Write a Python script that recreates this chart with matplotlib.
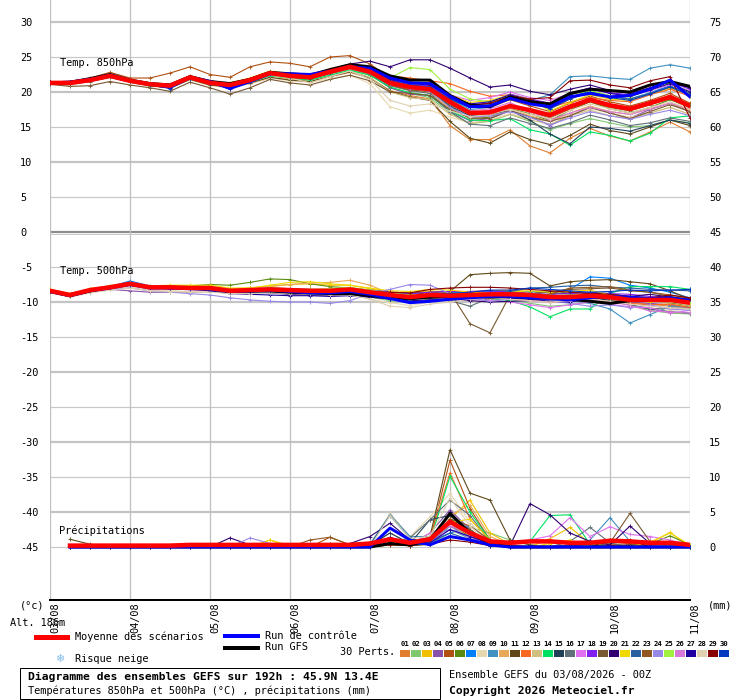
import matplotlib
matplotlib.use("Agg")
import matplotlib.pyplot as plt
from matplotlib.lines import Line2D
from matplotlib.patches import Rectangle

# time axis (hours from 03/08 00Z)
hours = list(range(0, 193, 6))
hours_pr = list(range(6, 193, 6))
day_ticks = list(range(0, 193, 24))
day_labels = ["03/08", "04/08", "05/08", "06/08", "07/08", "08/08", "09/08", "10/08", "11/08"]

pert_colors = ["#e07f30", "#80c870", "#f0c000", "#8850a8", "#b05010", "#5a8a10", "#0080ff", "#e8d8b0",
               "#4090c0", "#e8a858", "#604818", "#f86820", "#d0c080", "#00e060", "#204058", "#607078",
               "#e070f0", "#8020f0", "#785830", "#300070", "#f0d800", "#2860a0", "#905820", "#9888e8",
               "#a0f040", "#d878d8", "#2000a0", "#e0d0b0", "#880000", "#0038c0"]

# ---- temperature 850 hPa (degC) ----
t850_mean = [21.3,21.3,21.7,22.3,21.6,21.1,20.9,22.1,21.3,21.0,21.7,22.7,22.3,22.1,22.9,23.6,22.9,21.3,20.7,20.4,18.6,17.0,17.1,18.0,17.4,16.7,17.9,18.9,18.1,17.6,18.4,19.3,18.0]
t850_ctrl = [21.3,21.4,21.8,22.4,21.6,21.1,20.7,22.1,21.5,20.5,21.5,22.6,22.6,22.5,23.0,23.6,23.4,22.0,21.3,21.2,19.4,17.9,18.0,19.1,18.3,17.9,19.3,19.8,19.3,19.5,20.4,21.7,19.3]
t850_gfs = [21.3,21.4,21.9,22.5,21.7,21.2,21.0,22.2,21.5,21.2,21.8,22.8,22.6,22.4,23.2,23.9,23.6,22.3,21.7,21.7,19.5,18.1,17.9,19.3,18.6,18.3,19.8,20.4,20.2,20.0,21.0,21.5,20.8]
t850_p01 = [21.2,21.0,21.6,22.4,21.5,21.0,20.6,21.8,21.0,20.7,21.2,22.0,21.8,21.5,22.2,22.8,22.0,20.2,19.5,19.0,15.2,13.2,13.2,14.6,12.3,11.3,13.4,14.8,13.7,13.0,14.3,15.7,14.3]
t850_p02 = [21.4,21.4,21.8,22.2,21.7,21.2,21.0,22.0,21.4,21.1,21.8,22.6,22.2,22.0,22.6,23.2,22.4,20.6,19.8,19.2,17.0,15.5,15.8,16.8,15.8,14.6,15.5,16.2,15.6,15.0,15.2,16.0,15.6]
t850_p03 = [21.3,21.4,21.9,22.5,21.7,21.2,21.0,22.3,21.5,21.3,22.0,23.0,22.6,22.4,23.3,24.0,23.3,21.8,21.2,21.0,19.3,18.0,18.3,19.4,18.8,17.6,19.0,20.0,19.4,19.0,19.8,20.6,19.6]
t850_p04 = [21.2,21.2,21.6,22.1,21.5,20.9,20.7,21.9,21.1,20.8,21.4,22.4,22.0,21.8,22.6,23.3,22.6,20.6,19.7,19.5,17.2,15.9,16.2,17.3,16.5,15.2,16.6,17.8,17.0,16.3,17.5,18.4,17.2]
t850_p05 = [21.4,21.5,22.0,22.8,22.0,22.0,22.7,23.6,22.5,22.1,23.6,24.3,24.1,23.6,25.0,25.2,24.0,22.0,21.2,20.6,19.4,18.3,17.8,18.9,18.0,17.2,18.4,19.4,18.6,18.0,18.8,19.8,18.4]
t850_p06 = [21.3,21.2,21.6,22.2,21.6,21.0,20.8,22.0,21.2,20.9,21.6,22.6,22.1,21.9,22.7,23.5,22.8,21.0,20.3,20.0,17.9,16.2,16.4,17.6,16.9,15.9,17.4,18.6,17.6,17.0,17.8,18.9,17.8]
t850_p07 = [21.3,21.4,21.8,22.4,21.7,21.2,21.0,22.3,21.4,21.2,21.9,22.9,22.5,22.3,23.1,23.8,23.1,21.6,21.0,20.8,19.0,17.8,17.9,19.2,18.4,17.7,19.2,20.2,19.4,19.0,19.9,20.9,19.5]
t850_p08 = [21.2,21.0,21.5,22.3,21.4,20.8,20.6,21.7,20.9,20.6,21.2,22.0,21.6,21.4,21.9,22.4,21.2,17.9,17.0,17.4,16.4,15.6,16.0,16.9,16.2,15.8,16.8,17.6,17.0,16.4,17.0,17.8,16.8]
t850_p09 = [21.3,21.3,21.7,22.2,21.6,21.1,20.9,22.1,21.3,21.0,21.6,22.5,22.2,22.0,22.8,23.5,22.8,21.4,20.8,20.6,19.0,17.5,17.8,19.0,18.8,19.6,22.2,22.3,22.0,21.8,23.4,23.9,23.4]
t850_p10 = [21.4,21.3,21.7,22.3,21.6,21.1,20.9,22.1,21.3,21.0,21.6,22.6,22.2,22.0,22.7,23.3,22.6,20.9,20.2,19.9,17.6,16.3,16.6,17.6,16.6,15.8,17.0,18.0,17.2,16.8,17.6,18.4,17.4]
t850_p11 = [21.2,21.1,21.5,22.1,21.4,20.9,20.6,21.8,21.0,20.7,21.3,22.1,21.7,21.5,22.2,22.9,22.0,20.1,19.3,18.8,15.8,13.4,12.7,14.3,13.2,12.5,13.8,15.4,14.5,14.0,15.0,16.0,15.2]
t850_p12 = [21.3,21.4,21.9,22.5,21.8,21.3,21.1,22.3,21.6,21.2,21.9,22.8,22.4,22.3,23.1,23.9,23.3,22.3,22.0,21.6,21.2,20.1,19.4,19.6,18.8,17.8,18.6,19.2,18.8,18.6,19.6,20.4,19.4]
t850_p13 = [21.3,21.3,21.6,22.2,21.5,21.0,20.8,22.0,21.2,20.9,21.5,22.3,21.9,21.7,22.4,23.0,22.1,20.0,19.2,18.9,16.8,15.5,15.9,16.8,16.0,15.4,16.6,17.4,16.6,16.2,17.0,17.8,16.8]
t850_p14 = [21.3,21.2,21.6,22.2,21.5,20.9,20.7,21.9,21.1,20.8,21.4,22.3,22.0,21.7,22.4,23.1,22.4,20.7,19.9,19.5,17.3,16.0,15.9,16.2,14.6,14.0,12.4,14.3,13.8,13.0,14.1,16.3,16.6]
t850_p15 = [21.3,21.3,21.7,22.3,21.6,21.1,20.9,22.1,21.3,21.0,21.7,22.7,22.3,22.1,22.9,23.6,22.9,21.2,20.5,20.2,18.0,16.6,16.8,17.4,16.0,14.0,12.6,15.0,14.8,14.4,15.2,16.0,15.5]
t850_p16 = [21.3,21.3,21.7,22.3,21.6,21.1,20.9,22.1,21.3,21.0,21.7,22.6,22.2,22.0,22.7,23.4,22.6,20.9,20.2,19.8,17.2,15.4,15.2,16.3,15.5,14.8,15.6,16.7,16.0,15.2,15.6,16.3,15.8]
t850_p17 = [21.3,21.4,21.8,22.4,21.7,21.2,21.0,22.2,21.4,21.1,21.8,22.8,22.4,22.2,23.0,23.7,23.0,21.8,21.4,21.0,19.6,18.8,19.2,20.0,19.2,18.8,19.8,20.4,19.8,19.4,20.2,21.0,20.2]
t850_p18 = [21.4,21.4,21.8,22.4,21.7,21.2,21.0,22.2,21.5,21.2,21.9,22.9,22.5,22.3,23.1,23.9,23.2,21.7,21.0,20.9,19.2,18.2,18.4,19.7,19.0,18.4,19.8,20.6,19.9,19.6,20.6,21.4,20.4]
t850_p19 = [21.1,20.8,20.9,21.5,21.0,20.6,20.1,21.4,20.6,19.7,20.6,21.8,21.3,21.0,21.8,22.4,21.6,20.0,19.8,19.5,17.5,16.3,16.2,17.4,16.4,15.8,16.6,17.8,17.0,16.2,17.2,18.2,17.2]
t850_p20 = [21.4,21.4,21.8,22.5,21.7,21.2,21.0,22.2,21.4,21.1,21.8,22.8,22.5,22.3,23.2,24.0,24.4,23.6,24.6,24.6,23.4,22.0,20.7,21.0,20.1,19.6,20.4,21.0,20.2,19.8,20.6,21.4,20.6]
t850_p21 = [21.3,21.4,21.8,22.4,21.7,21.2,21.0,22.2,21.4,21.2,21.9,22.9,22.5,22.3,23.1,23.8,23.2,22.0,21.4,21.2,19.6,18.5,18.8,19.6,19.0,17.3,18.5,19.6,19.0,18.8,19.8,20.6,19.8]
t850_p22 = [21.3,21.3,21.7,22.3,21.6,21.0,20.8,22.0,21.2,20.9,21.6,22.6,22.2,22.0,22.8,23.5,22.8,21.4,20.9,20.6,19.0,17.8,18.2,19.2,18.6,17.9,19.2,20.1,19.4,19.0,19.8,20.8,19.9]
t850_p23 = [21.3,21.3,21.7,22.2,21.6,21.1,20.8,22.0,21.2,20.9,21.6,22.5,22.1,21.9,22.7,23.4,22.6,21.0,20.3,20.1,18.2,16.8,16.9,17.9,17.2,16.3,17.5,18.6,17.8,17.3,18.2,19.0,18.0]
t850_p24 = [21.2,21.3,21.7,22.3,21.6,21.1,20.9,22.1,21.3,21.0,21.6,22.6,22.2,22.0,22.8,23.4,22.7,21.1,20.5,20.1,17.8,16.4,16.6,17.2,16.4,15.3,16.3,17.2,16.6,16.1,16.8,17.4,16.6]
t850_p25 = [21.3,21.4,21.8,22.4,21.7,21.2,21.0,22.2,21.5,21.2,21.9,22.9,22.5,22.3,23.2,23.9,23.3,22.0,23.5,23.2,20.4,19.0,18.6,19.4,18.8,18.2,19.6,20.2,19.5,19.3,20.3,21.3,20.0]
t850_p26 = [21.3,21.3,21.8,22.4,21.7,21.2,21.0,22.2,21.4,21.1,21.8,22.8,22.4,22.2,23.0,23.7,23.1,21.6,20.8,20.6,18.6,17.3,17.6,18.5,17.2,16.0,17.0,17.8,17.2,16.8,17.6,18.4,17.6]
t850_p27 = [21.4,21.4,21.8,22.4,21.6,21.1,20.6,22.2,21.5,20.4,21.7,22.8,22.4,22.2,23.0,23.8,23.2,21.8,21.3,21.1,19.3,18.3,18.6,19.6,18.9,18.1,19.6,20.5,19.8,19.4,20.3,21.2,20.0]
t850_p28 = [21.3,21.2,21.6,22.2,21.5,21.0,20.8,21.9,21.2,20.9,21.5,22.4,22.0,21.3,22.2,23.0,21.8,18.8,18.0,18.3,17.3,16.5,16.8,17.5,16.8,16.2,17.4,18.3,17.6,17.0,17.8,18.6,17.6]
t850_p29 = [21.3,21.3,21.7,22.3,21.6,21.1,20.9,22.1,21.3,21.0,21.7,22.7,22.3,22.1,22.9,23.6,23.0,21.8,21.3,21.0,19.3,18.1,18.4,19.4,19.0,19.2,21.6,21.7,21.0,20.6,21.6,22.2,16.3]
t850_p30 = [21.3,21.3,21.7,22.3,21.6,21.0,20.5,21.9,21.2,20.6,21.5,22.6,22.2,22.0,22.8,23.6,23.0,21.6,21.0,20.7,19.0,17.8,18.0,19.3,18.6,17.6,19.0,20.0,19.2,18.8,19.7,20.7,19.6]

# ---- temperature 500 hPa (degC) ----
t500_mean = [-8.4,-9.0,-8.3,-7.9,-7.4,-7.9,-7.9,-8.0,-8.0,-8.4,-8.3,-8.2,-8.3,-8.4,-8.4,-8.2,-8.6,-9.0,-9.3,-9.0,-9.1,-9.0,-8.9,-8.9,-9.0,-9.3,-9.3,-9.1,-9.3,-9.7,-9.7,-9.7,-10.1]
t500_ctrl = [-8.5,-9.1,-8.4,-8.0,-7.5,-8.0,-8.0,-8.1,-8.1,-8.5,-8.4,-8.3,-8.5,-8.7,-8.7,-8.5,-8.9,-9.5,-10.1,-9.9,-9.6,-9.4,-9.2,-9.2,-9.4,-9.5,-9.7,-9.4,-9.2,-9.3,-9.5,-9.4,-9.8]
t500_gfs = [-8.5,-9.1,-8.4,-7.9,-7.4,-7.9,-7.9,-8.0,-8.1,-8.5,-8.4,-8.4,-8.6,-8.7,-8.8,-8.8,-9.1,-9.3,-9.5,-9.3,-9.2,-9.2,-9.3,-9.2,-9.4,-9.4,-9.6,-9.9,-10.2,-9.8,-9.6,-9.7,-10.0]
t500_p01 = [-8.3,-8.9,-8.2,-7.8,-7.5,-8.0,-8.0,-8.1,-8.1,-8.5,-8.5,-8.4,-8.6,-8.8,-8.7,-8.4,-8.8,-9.4,-9.6,-9.2,-9.0,-9.4,-9.6,-9.5,-9.8,-10.0,-9.8,-9.4,-9.7,-10.1,-10.3,-10.6,-10.8]
t500_p02 = [-8.5,-9.1,-8.4,-7.9,-7.6,-8.0,-8.1,-8.0,-8.2,-8.4,-8.2,-8.0,-8.1,-8.2,-8.5,-8.6,-9.3,-9.8,-10.0,-9.6,-9.4,-9.3,-9.2,-9.6,-10.2,-10.6,-10.4,-10.0,-9.8,-10.4,-11.2,-11.6,-11.7]
t500_p03 = [-8.3,-8.9,-8.2,-7.7,-7.2,-7.8,-7.7,-7.8,-7.9,-8.2,-8.0,-7.8,-7.5,-7.4,-7.6,-7.6,-8.1,-8.6,-8.7,-8.4,-8.6,-8.5,-8.4,-8.3,-8.5,-8.7,-8.8,-8.6,-9.0,-9.7,-9.4,-9.2,-9.6]
t500_p04 = [-8.4,-9.0,-8.4,-8.2,-8.4,-8.6,-8.6,-8.6,-8.5,-8.7,-8.6,-8.5,-8.6,-8.6,-8.8,-8.8,-9.0,-9.3,-9.4,-9.5,-9.7,-9.6,-9.4,-9.5,-9.4,-9.7,-9.9,-9.6,-9.6,-10.0,-10.2,-10.4,-10.8]
t500_p05 = [-8.4,-9.0,-8.2,-7.7,-7.3,-7.8,-7.8,-8.0,-8.0,-8.3,-8.4,-8.6,-8.7,-8.8,-9.0,-9.0,-9.1,-9.2,-8.7,-8.6,-8.8,-8.6,-8.9,-9.0,-9.1,-9.2,-9.4,-9.3,-9.5,-9.6,-9.8,-9.9,-10.1]
t500_p06 = [-8.4,-9.0,-8.2,-7.8,-7.3,-7.8,-7.7,-7.7,-7.5,-7.6,-7.2,-6.7,-6.8,-7.4,-7.8,-8.0,-8.3,-8.6,-8.9,-9.1,-8.8,-8.7,-8.6,-8.5,-8.8,-9.0,-9.2,-9.1,-9.4,-9.6,-9.9,-10.1,-10.6]
t500_p07 = [-8.3,-8.9,-8.2,-7.8,-7.0,-7.7,-7.8,-8.0,-8.0,-8.2,-8.2,-8.0,-8.2,-8.3,-8.4,-8.2,-8.4,-8.6,-8.8,-8.9,-8.7,-8.6,-8.5,-8.6,-8.5,-8.6,-8.2,-6.4,-6.6,-7.6,-8.0,-8.6,-9.4]
t500_p08 = [-8.6,-9.2,-8.6,-8.1,-7.8,-8.3,-8.4,-8.5,-8.5,-8.6,-8.6,-8.6,-8.6,-8.6,-8.6,-8.6,-9.6,-10.1,-10.5,-10.0,-9.6,-9.3,-9.0,-8.8,-9.6,-10.1,-9.7,-9.3,-10.0,-10.4,-10.8,-11.2,-11.0]
t500_p09 = [-8.4,-9.0,-8.3,-7.9,-7.5,-7.9,-8.0,-8.1,-8.1,-8.5,-8.4,-8.3,-8.4,-8.6,-8.6,-8.4,-8.8,-9.0,-9.3,-9.2,-9.0,-8.9,-9.0,-9.1,-9.4,-9.7,-9.8,-10.2,-11.0,-13.0,-11.8,-10.6,-10.6]
t500_p10 = [-8.2,-8.8,-8.1,-7.7,-7.3,-7.8,-7.7,-7.9,-7.8,-8.1,-8.0,-7.7,-7.5,-7.3,-7.2,-6.9,-7.6,-8.8,-9.5,-9.2,-9.0,-8.8,-8.6,-8.8,-9.1,-9.4,-9.6,-9.8,-10.0,-10.2,-10.4,-10.3,-10.6]
t500_p11 = [-8.4,-9.0,-8.3,-7.9,-7.5,-7.9,-7.9,-8.0,-8.0,-8.4,-8.3,-8.2,-8.3,-8.4,-8.5,-8.3,-8.6,-8.8,-9.0,-8.6,-8.5,-6.1,-5.9,-5.8,-5.9,-7.7,-7.1,-6.9,-6.8,-7.1,-7.4,-8.4,-9.6]
t500_p12 = [-8.3,-8.9,-8.2,-7.8,-7.4,-7.8,-7.9,-7.9,-7.9,-8.3,-8.2,-8.1,-8.2,-8.3,-8.3,-8.1,-8.5,-8.9,-9.2,-9.0,-9.2,-9.3,-9.2,-9.3,-9.6,-10.0,-9.8,-9.7,-9.9,-10.2,-10.4,-10.3,-10.8]
t500_p13 = [-8.6,-9.2,-8.5,-8.0,-7.6,-8.1,-8.1,-8.1,-8.1,-8.5,-8.4,-8.3,-8.3,-8.4,-8.5,-8.4,-8.8,-9.2,-9.5,-9.4,-9.3,-9.2,-9.1,-9.0,-9.2,-9.5,-9.4,-9.2,-9.3,-9.8,-10.0,-10.0,-10.4]
t500_p14 = [-8.4,-9.0,-8.3,-7.9,-7.5,-8.0,-7.9,-8.0,-8.0,-8.4,-8.3,-8.2,-8.3,-8.4,-8.4,-8.2,-8.7,-9.2,-9.4,-9.3,-9.4,-9.3,-9.5,-9.8,-10.7,-12.1,-11.0,-11.0,-8.8,-7.8,-7.8,-7.8,-8.2]
t500_p15 = [-8.5,-9.1,-8.4,-8.0,-7.6,-8.0,-8.1,-8.1,-8.1,-8.5,-8.4,-8.4,-8.5,-8.6,-8.6,-8.5,-8.9,-9.3,-9.6,-9.3,-9.2,-9.1,-9.1,-9.0,-8.8,-8.6,-8.9,-9.3,-9.8,-10.4,-11.0,-11.4,-11.6]
t500_p16 = [-8.4,-9.0,-8.3,-7.8,-7.3,-7.8,-7.8,-7.9,-7.9,-8.3,-8.3,-8.3,-8.3,-8.4,-8.4,-8.2,-8.6,-9.0,-9.3,-9.3,-9.8,-10.6,-9.4,-9.2,-9.1,-8.9,-8.5,-8.8,-9.2,-10.4,-11.0,-10.8,-10.9]
t500_p17 = [-8.3,-8.9,-8.2,-7.8,-7.3,-7.8,-7.8,-7.9,-7.9,-8.3,-8.2,-8.1,-8.2,-8.3,-8.3,-8.2,-8.6,-9.0,-9.4,-9.3,-9.5,-9.6,-9.8,-10.0,-10.4,-10.8,-10.4,-10.0,-10.3,-10.7,-10.8,-11.6,-11.2]
t500_p18 = [-8.4,-9.0,-8.3,-7.9,-7.4,-7.8,-7.8,-7.9,-7.9,-8.3,-8.1,-8.0,-8.1,-8.2,-8.2,-8.0,-8.3,-8.6,-8.8,-8.6,-8.5,-8.5,-8.4,-8.6,-8.8,-8.9,-8.8,-8.6,-8.8,-8.9,-9.2,-9.5,-9.9]
t500_p19 = [-8.5,-9.1,-8.4,-8.0,-7.6,-8.0,-8.0,-8.1,-8.1,-8.5,-8.5,-8.5,-8.6,-8.7,-8.7,-8.5,-8.8,-9.0,-9.2,-9.0,-8.6,-13.1,-14.4,-9.0,-8.9,-8.5,-8.2,-8.1,-8.0,-8.4,-8.6,-9.2,-9.8]
t500_p20 = [-8.4,-9.0,-8.3,-7.9,-7.5,-7.9,-7.9,-8.0,-8.1,-8.5,-8.6,-8.7,-8.9,-9.0,-9.1,-8.9,-9.3,-9.6,-9.8,-9.7,-9.6,-9.8,-10.0,-9.9,-9.8,-9.5,-9.3,-8.7,-8.9,-9.2,-8.9,-9.3,-10.0]
t500_p21 = [-8.2,-8.8,-8.1,-7.7,-7.3,-7.7,-7.6,-7.6,-7.6,-8.0,-8.0,-7.6,-7.2,-7.1,-7.4,-7.6,-8.0,-8.4,-8.5,-8.2,-8.3,-8.6,-8.8,-8.6,-8.4,-8.6,-8.5,-8.3,-9.0,-9.6,-10.0,-9.6,-10.2]
t500_p22 = [-8.4,-9.0,-8.3,-7.9,-7.5,-7.9,-8.0,-8.1,-8.2,-8.6,-8.7,-8.6,-8.7,-8.8,-8.7,-8.6,-9.1,-9.5,-9.7,-9.4,-9.3,-9.1,-9.0,-8.5,-8.0,-7.9,-7.7,-7.6,-7.9,-8.0,-8.2,-8.3,-8.4]
t500_p23 = [-8.5,-9.0,-8.4,-8.0,-7.5,-7.9,-7.9,-8.0,-8.0,-8.4,-8.2,-8.1,-8.3,-8.3,-8.4,-8.3,-8.6,-9.0,-9.3,-9.1,-9.2,-9.2,-9.0,-9.1,-9.2,-8.9,-8.0,-7.9,-7.8,-8.3,-8.6,-9.0,-9.5]
t500_p24 = [-8.6,-9.2,-8.6,-8.2,-8.0,-8.4,-8.6,-8.8,-9.0,-9.4,-9.7,-9.9,-10.0,-10.0,-10.2,-9.8,-8.8,-8.2,-7.5,-7.6,-8.8,-9.4,-9.9,-9.6,-9.4,-9.8,-10.2,-10.6,-10.4,-10.8,-10.4,-11.0,-11.2]
t500_p25 = [-8.3,-8.9,-8.2,-7.8,-7.4,-7.8,-7.8,-7.9,-7.9,-8.3,-8.2,-8.0,-8.1,-8.2,-8.1,-7.9,-8.3,-8.7,-9.0,-8.9,-8.9,-8.9,-8.8,-8.8,-8.9,-9.1,-9.0,-8.9,-9.0,-9.3,-9.5,-9.6,-10.0]
t500_p26 = [-8.4,-9.0,-8.3,-7.9,-7.5,-7.9,-7.9,-8.0,-8.0,-8.4,-8.4,-8.3,-8.5,-8.5,-8.5,-8.3,-8.7,-9.1,-9.4,-9.3,-9.4,-9.5,-9.5,-9.6,-9.8,-10.0,-9.9,-9.7,-9.9,-10.5,-11.3,-11.4,-11.6]
t500_p27 = [-8.5,-9.1,-8.4,-8.0,-7.6,-8.0,-8.1,-8.2,-8.4,-8.8,-8.9,-9.0,-9.1,-9.1,-9.2,-9.1,-9.3,-9.5,-9.6,-9.3,-9.2,-9.2,-9.3,-9.5,-9.6,-9.9,-10.0,-9.5,-9.3,-9.5,-9.6,-9.3,-9.6]
t500_p28 = [-8.7,-9.3,-8.7,-8.3,-8.0,-8.4,-8.5,-8.6,-8.6,-8.8,-8.8,-8.7,-8.8,-8.9,-9.0,-9.0,-9.6,-10.6,-10.8,-10.3,-10.0,-9.6,-9.4,-9.6,-9.8,-10.0,-9.8,-9.6,-9.9,-10.3,-10.6,-10.8,-11.0]
t500_p29 = [-8.4,-9.0,-8.3,-7.9,-7.4,-7.9,-7.9,-8.0,-8.0,-8.3,-8.3,-8.2,-8.3,-8.4,-8.4,-8.3,-8.5,-8.6,-8.7,-8.2,-8.0,-7.9,-7.9,-8.0,-8.2,-8.4,-8.6,-8.8,-8.9,-9.2,-9.4,-9.0,-9.4]
t500_p30 = [-8.4,-9.0,-8.3,-7.9,-7.5,-7.9,-8.0,-8.1,-8.1,-8.5,-8.5,-8.4,-8.5,-8.6,-8.6,-8.4,-8.8,-9.2,-9.4,-9.0,-8.8,-8.6,-8.3,-8.3,-8.0,-8.2,-8.4,-8.6,-8.5,-8.3,-8.4,-8.3,-8.2]

# ---- precipitation (mm / 6h), from +6h ----
pr_mean = [0.2,0.2,0.2,0.2,0.2,0.2,0.3,0.3,0.3,0.3,0.3,0.3,0.3,0.3,0.3,0.5,1.1,0.6,1.1,3.6,2.0,0.8,0.6,0.8,0.8,0.6,0.6,0.9,0.8,0.6,0.6,0.3]
pr_ctrl = [0,0,0,0,0,0,0,0,0,0,0,0,0,0,0,0,2.7,1.0,0.3,1.5,1.0,0.3,0,0,0,0,0,0,0,0,0,0]
pr_gfs = [0,0,0,0,0,0,0,0,0,0,0,0,0,0,0,0,0.5,0.3,1.0,4.8,2.0,0.5,0,0,0,0,0,0,0,0,0,0]
pr_p01 = [0,0,0,0,0,0,0,0,0,0,0,0,0,0,0,0.2,0.5,0.3,0.8,3.0,1.5,0.4,0.2,0,0,0.2,0,0.3,0,0,0.2,0]
pr_p02 = [0,0,0,0,0,0,0,0,0,0,0,0,0,0,0,0,1.0,0.4,0.5,2.0,2.8,2.0,1.0,0.3,0,0,0.2,0,0,0.3,0,0]
pr_p03 = [0,0,0,0,0,0,0,0,0,0,1.0,0,0,0,0,0,0.4,0.2,0.6,4.0,6.7,2.0,0.4,0,1.2,2.8,0.5,0,0,0.5,2.1,0]
pr_p04 = [0,0,0,0,0,0,0,0,0,0,0,0,0,0,0,0,0.8,0.3,2.0,5.3,2.5,0.5,0,0,0,0.3,0,0,0.4,0,0,0]
pr_p05 = [0,0,0,0,0,0,0,0,0,0,0,0,0,1.4,0.3,0,0.8,0.4,1.0,12.4,5.5,1.0,0.2,0,0,0,0,0.3,0.5,0,0,0]
pr_p06 = [0,0,0,0,0,0,0,0,0,0,0,0,0,0,0,0,0.3,0.2,0.6,3.0,1.5,0.3,0,0,0,0,0,0,0.2,0.4,1.6,0.3]
pr_p07 = [0,0,0,0,0,0,0,0,0,0,0,0,0,0,0,0,1.2,0.5,0.8,2.0,3.0,1.0,0.2,0,0,0,0,0,0,0,0,0]
pr_p08 = [0,0,0,0,0,0,0,0,0,0,0,0,0,0,0,0.3,4.8,1.5,4.3,7.7,3.5,0.6,0,0,0,0,0,0,0,0,0.3,0]
pr_p09 = [0,0,0,0,0,0,0,0,0,0,0,0,0,0,0,0.4,4.6,1.5,1.5,2.5,1.2,0.4,0,0,0,0.3,1.0,4.2,0.8,0,0,0]
pr_p10 = [0,0,0,0,0,0,0,0,0,0,0,0,0,0,0,0.5,0.6,0.3,1.0,4.5,6.0,1.5,0.3,0,0,0,0,0,0,0,0,0]
pr_p11 = [1.1,0.4,0,0,0,0,0,0,0,0,0,0,0,0,0,0.6,1.0,0.5,1.5,13.9,7.7,6.7,1.0,0.3,0,0,0,0,0.3,0,0,0]
pr_p12 = [0,0,0,0,0,0,0,0,0,0,0,0,0,0,0,0,0.6,0.3,1.2,10.6,4.0,1.0,0.2,0,0,0,0,0,0,0,0,0]
pr_p13 = [0,0,0,0,0,0,0,0,0,0,0,0,0,0,0,0,2.0,0.5,0.8,3.5,1.0,0.2,0,0,0,0,0,0,0,0.3,0,0]
pr_p14 = [0,0,0,0,0,0,0,0,0,0,0,0,0,0,0,0,0.4,0.2,0.8,10.1,5.0,1.0,0.6,0.8,4.5,4.6,0.4,0,0,0,0,0]
pr_p15 = [0,0,0,0,0,0,0,0,0,0,0,0,0,0,0,0.3,2.0,0.5,3.9,4.5,2.0,0.3,0,0,0,0,0,0,0,0,0,0]
pr_p16 = [0,0,0,0,0,0,0,0,0,0,0,0,0,0,0,0,0.6,1.3,3.9,6.7,4.5,0.8,0,0,0,0.8,2.8,0.6,0,0,0,0]
pr_p17 = [0,0,0,0,0,0,0,0,0,0,0,0,0,0,0,0,0.4,0.2,0.6,2.5,1.5,0.4,0.2,1.0,1.6,4.2,1.5,2.9,1.8,1.5,1.0,0.2]
pr_p18 = [0,0,0,0,0,0,0,0,0,0,0,0,0,0,0,0,1.0,0.3,0.6,3.8,1.8,0.3,0,0,0,0,0,0,0,0,0,0]
pr_p19 = [0,0,0,0,0,0,0,0.4,0,0,0,0,0,0,0,0,0.5,0.2,0.8,4.0,2.5,0.5,0,0,0,0,0,0.6,4.8,0.8,0.5,0]
pr_p20 = [0,0,0,0,0,0,0,0,1.3,0.3,0,0,0,0,0.5,1.5,3.4,1.0,0.6,5.0,2.0,0.4,0.2,6.2,4.6,2.0,0.8,0.3,3.0,0.5,0,0]
pr_p21 = [0,0,0,0,0,0,0,0,0,0,1.0,0.2,0,0,0,0,0.3,0.2,0.8,3.5,4.0,1.0,0.2,0,0.5,1.0,0,0,0,0.7,2.0,0.3]
pr_p22 = [0,0,0,0,0,0,0,0,0,0,0,0,0,0,0,0.3,4.5,1.2,0.6,2.0,1.0,0.2,0,0,0,0,0,0,0,0,0,0]
pr_p23 = [0,0,0,0,0,0,0,0,0,0,0,0,1.0,1.4,0.3,0,0.5,0.3,0.8,4.0,3.0,1.0,0.2,0,0,0,0,0,0,0,0,0]
pr_p24 = [0,0,0,0,0,0,0,0,0,1.3,0.5,0,0,0,0,0,0.6,0.3,0.6,3.0,1.2,0.2,0,0,0,0,0,0,0,0,0,0]
pr_p25 = [0,0,0,0,0,0,0,0,0,0,0,0,0,0,0,0,0.3,0.2,0.4,1.5,1.0,0.2,0,0,0,0,0,0,0,0,0,0]
pr_p26 = [0,0,0,0,0,0,0,0,0,0,0,0,0,0,0,0,0.5,0.3,2.0,3.0,2.0,0.4,0,0,0,0,0,0,0,0.2,0.4,0]
pr_p27 = [0,0,0,0,0,0,0,0,0,0,0,0,0,0,0,0.2,1.4,0.4,0.6,2.5,1.5,0.5,0,0,0,0,0,0,0,0,0,0]
pr_p28 = [0,0,0,0,0,0,0,0,0,0,0,0,0,0,0,0,4.5,1.2,1.5,7.0,3.0,0.5,0,0,0,0,0,0,0,0,0.4,0]
pr_p29 = [0,0,0,0,0,0,0,0,0,0,0,0,0,0.5,0,0,0.3,0.2,0.4,1.0,0.7,0.2,0,0,0,0,0,1.0,1.0,0,0,0]
pr_p30 = [0,0,0,0,0,0,0,0,0,0,0,0,0,0,0,0,1.0,0.3,0.4,1.5,1.0,0.2,0,0,0,0,0,0,0,0,0,0]

t850_perts = [globals()["t850_p%02d" % k] for k in range(1, 31)]
t500_perts = [globals()["t500_p%02d" % k] for k in range(1, 31)]
pr_perts = [globals()["pr_p%02d" % k] for k in range(1, 31)]

MONO = "DejaVu Sans Mono"
W, H = 740, 700
PX = 0.72  # points per pixel at dpi 100


def fx(x):
    return x / W


def fy(y):
    return 1 - y / H


fig = plt.figure(figsize=(7.4, 7.0), dpi=100)
fig.patch.set_facecolor("white")
ax = fig.add_axes([fx(50), 100 / H, 640 / W, 600 / H])
y_top = 30 + 22 / 7
y_bot = 30 - 578 / 7
ax.set_xlim(0, 192)
ax.set_ylim(y_bot, y_top)

# grid
for v in range(-45, 31, 5):
    if v == 0:
        ax.axhline(v, color="#8c8c8c", lw=2.2 * PX, zorder=1)
        ax.axhline(v - 0.22, color="#c8c8c8", lw=1 * PX, zorder=1)
    elif v % 10 == 0:
        ax.axhline(v, color="#c4c4c4", lw=2.2 * PX, zorder=1)
    else:
        ax.axhline(v, color="#c8c8c8", lw=1.2 * PX, zorder=1)
for d in day_ticks:
    ax.axvline(d, color="#c0c0c0", lw=1.3 * PX, zorder=1)

for s in ["left", "right", "top"]:
    ax.spines[s].set_visible(False)
ax.spines["bottom"].set_color("black")
ax.spines["bottom"].set_linewidth(2 * PX)

ticks_l = list(range(-45, 31, 5))
ax.set_yticks(ticks_l)
ax.set_yticklabels([str(v) for v in ticks_l], fontfamily=MONO, fontsize=7.4)
ax.tick_params(axis="y", length=0, pad=30 * PX)
for lb in ax.get_yticklabels():
    lb.set_horizontalalignment("left")

ax.set_xticks(day_ticks)
ax.set_xticklabels(day_labels, rotation=90, ha="left", va="top", fontfamily=MONO, fontsize=7.4)
ax.tick_params(axis="x", length=0, pad=2 * PX)

ax2 = ax.twinx()
ax2.set_ylim(y_bot + 45, y_top + 45)
for s in ["left", "right", "top", "bottom"]:
    ax2.spines[s].set_visible(False)
ticks_r = list(range(0, 76, 5))
ax2.set_yticks(ticks_r)
ax2.set_yticklabels([str(v) for v in ticks_r], fontfamily=MONO, fontsize=7.4)
ax2.tick_params(axis="y", length=0, pad=19 * PX)

mk = dict(marker="+", markersize=3, markeredgewidth=0.6)

# ensemble members
for c, a, b, p in zip(pert_colors, t850_perts, t500_perts, pr_perts):
    ax.plot(hours, a, color=c, lw=0.8, zorder=3, **mk)
    ax.plot(hours, b, color=c, lw=0.8, zorder=3, **mk)
    ax2.plot(hours_pr, p, color=c, lw=0.8, zorder=3, **mk)

# GFS, control, mean
ax.plot(hours, t850_gfs, color="black", lw=3 * PX, zorder=4)
ax.plot(hours, t500_gfs, color="black", lw=3 * PX, zorder=4)
ax2.plot(hours_pr, pr_gfs, color="black", lw=3 * PX, zorder=4)
ax.plot(hours, t850_ctrl, color="#0000ff", lw=3 * PX, zorder=5)
ax.plot(hours, t500_ctrl, color="#0000ff", lw=3 * PX, zorder=5)
ax2.plot(hours_pr, pr_ctrl, color="#0000ff", lw=3 * PX, zorder=5)
ax.plot(hours, t850_mean, color="#ff0000", lw=4.5 * PX, zorder=6)
ax.plot(hours, t500_mean, color="#ff0000", lw=4.5 * PX, zorder=6)
ax2.plot(hours_pr, pr_mean, color="#ff0000", lw=4.5 * PX, zorder=6)

# panel labels
ax.text(10 * 24 / 80, 30 - (63 - 22) / 7, "Temp. 850hPa", fontfamily=MONO, fontsize=7.4, va="center", zorder=7)
ax.text(10 * 24 / 80, 30 - (271 - 22) / 7, "Temp. 500hPa", fontfamily=MONO, fontsize=7.4, va="center", zorder=7)
ax.text(9 * 24 / 80, 30 - (531 - 22) / 7, "Précipitations", fontfamily=MONO, fontsize=7.4, va="center", zorder=7)

# bottom annotations
fig.text(fx(20), fy(606), "(°c)", fontfamily=MONO, fontsize=7.4, va="center")
fig.text(fx(10), fy(623), "Alt. 186m", fontfamily=MONO, fontsize=7.4, va="center")
fig.text(fx(708), fy(606), "(mm)", fontfamily=MONO, fontsize=7.4, va="center")

# legend
fig.add_artist(Line2D([fx(36), fx(67)], [fy(637), fy(637)], color="#ff0000", lw=5 * PX))
fig.text(fx(75), fy(637), "Moyenne des scénarios", fontfamily=MONO, fontsize=7.4, va="center")
fig.add_artist(Line2D([fx(225), fx(258)], [fy(636), fy(636)], color="#0000ff", lw=4 * PX))
fig.text(fx(265), fy(636), "Run de contrôle", fontfamily=MONO, fontsize=7.4, va="center")
fig.add_artist(Line2D([fx(225), fx(258)], [fy(648), fy(648)], color="black", lw=4 * PX))
fig.text(fx(265), fy(647), "Run GFS", fontfamily=MONO, fontsize=7.4, va="center")
fig.text(fx(60), fy(659), "\u2744", family="DejaVu Sans", fontsize=8, color="#7fbfef", va="center", ha="center")
fig.text(fx(75), fy(659), "Risque neige", fontfamily=MONO, fontsize=7.4, va="center")
fig.text(fx(395), fy(652), "30 Perts.", fontfamily=MONO, fontsize=7.4, va="center", ha="right")
for k, c in enumerate(pert_colors):
    x0 = 400 + 11 * k
    fig.text(fx(x0 + 5), fy(644), "%02d" % (k + 1), fontfamily=MONO, fontsize=5.2,
             fontweight="bold", va="center", ha="center")
    fig.add_artist(Rectangle((fx(x0), fy(657)), 10 / W, 7 / H, transform=fig.transFigure,
                             facecolor=c, edgecolor="none"))

# title box
fig.add_artist(Rectangle((fx(20), fy(699)), 420 / W, 31 / H, transform=fig.transFigure,
                         facecolor="none", edgecolor="black", lw=1 * PX))
fig.text(fx(28), fy(677), "Diagramme des ensembles GEFS sur 192h : 45.9N 13.4E",
         fontfamily=MONO, fontsize=8.2, fontweight="bold", va="center")
fig.text(fx(28), fy(691), "Températures 850hPa et 500hPa (°C) , précipitations (mm)",
         fontfamily=MONO, fontsize=7.4, va="center")
fig.text(fx(449), fy(675), "Ensemble GEFS du 03/08/2026 - 00Z", fontfamily=MONO, fontsize=7.4, va="center")
fig.text(fx(449), fy(691), "Copyright 2026 Meteociel.fr", fontfamily=MONO, fontsize=8.2,
         fontweight="bold", va="center")

fig.savefig("out.png", dpi=100, facecolor="white")
